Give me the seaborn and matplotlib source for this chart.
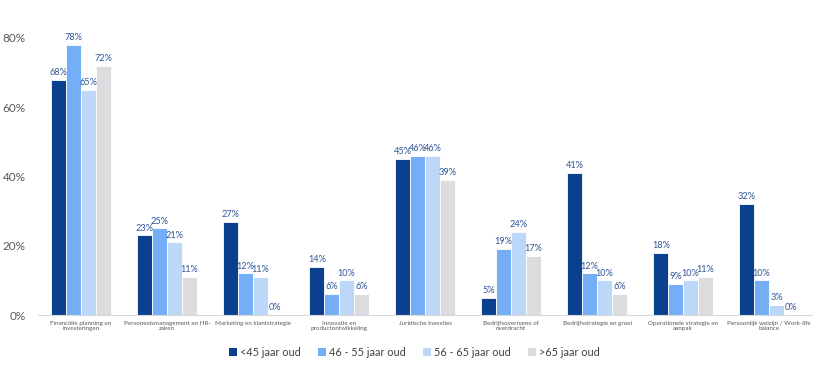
import matplotlib
matplotlib.use("Agg")
import matplotlib.pyplot as plt
import seaborn as sns
import pandas as pd
from matplotlib.patches import Patch

categories = [
    "Financiële planning en\ninvesteringen",
    "Personeelsmanagement en HR-\nzaken",
    "Marketing en klantstrategie",
    "Innovatie en\nproductontwikkeling",
    "Juridische kwesties",
    "Bedrijfsovername of\noverdracht",
    "Bedrijfsstrategie en groei",
    "Operationele strategie en\naanpak",
    "Persoonlijk welzijn / Work-life\nbalance",
]
series_names = ["<45 jaar oud", "46 - 55 jaar oud", "56 - 65 jaar oud", ">65 jaar oud"]
lt45 = [68, 23, 27, 14, 45, 5, 41, 18, 32]
a46_55 = [78, 25, 12, 6, 46, 19, 12, 9, 10]
a56_65 = [65, 21, 11, 10, 46, 24, 10, 10, 3]
gt65 = [72, 11, 0, 6, 39, 17, 6, 11, 0]
y_ticks = [0, 20, 40, 60, 80]

colors = ["#0B408F", "#74AEF6", "#BDD7F8", "#DCDCDF"]

rows = []
for name, vals in zip(series_names, [lt45, a46_55, a56_65, gt65]):
    for c, v in zip(categories, vals):
        rows.append({"cat": c, "group": name, "val": v})
df = pd.DataFrame(rows)

sns.set_theme(style="white")
plt.rcParams["font.family"] = ["Lato", "DejaVu Sans"]

fig = plt.figure(figsize=(8.32, 3.70), dpi=100)
ax = fig.add_axes([0.0457, 0.1486, 0.9303, 0.7955])

sns.barplot(data=df, x="cat", y="val", hue="group", order=categories,
            hue_order=series_names, palette=colors, width=0.69,
            edgecolor="white", linewidth=0.6, saturation=1, ax=ax, legend=False)

for cont in ax.containers:
    ax.bar_label(cont, labels=[f"{int(round(b.get_height()))}%" for b in cont],
                 padding=2, fontsize=6.6, color="#2F5597")

ax.set_ylim(0, 85)
ax.set_xlim(-0.5, len(categories) - 0.5)
ax.set_yticks(y_ticks)
ax.set_yticklabels([f"{t}%" for t in y_ticks], fontsize=8.5, color="#595959")
ax.tick_params(axis="x", labelsize=4.5, labelcolor="#595959", length=0, pad=4)
ax.tick_params(axis="y", length=0, pad=9)
ax.set_xlabel("")
ax.set_ylabel("")
for s in ["top", "right", "left"]:
    ax.spines[s].set_visible(False)
ax.spines["bottom"].set_color("#D9D9D9")
ax.spines["bottom"].set_linewidth(0.8)
ax.grid(False)

handles = [Patch(facecolor=c, edgecolor="none") for c in colors]
fig.legend(handles, series_names, loc="center", bbox_to_anchor=(0.498, 0.048),
           ncol=4, frameon=False, fontsize=7.8, handlelength=0.7, handleheight=0.7,
           columnspacing=1.6, handletextpad=0.3, labelcolor="#404040")

fig.savefig("out.png", dpi=100)
